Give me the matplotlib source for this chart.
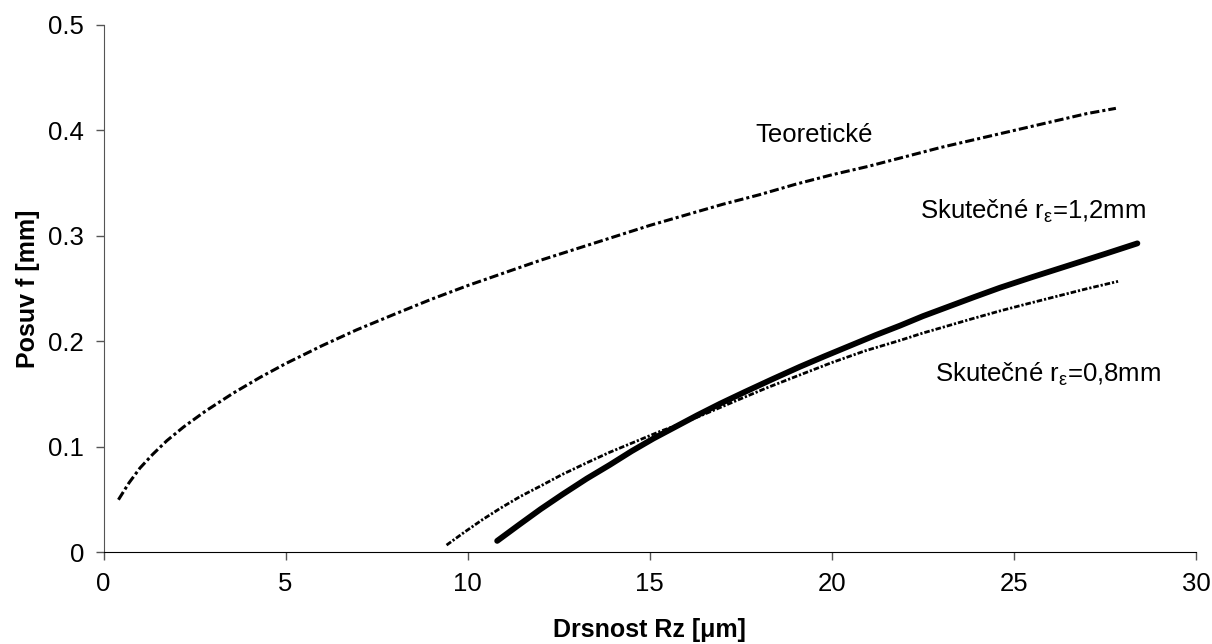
import matplotlib
matplotlib.use("Agg")
import matplotlib.pyplot as plt
from matplotlib.ticker import FuncFormatter

plt.rcParams["font.family"] = ["Liberation Sans", "DejaVu Sans"]
plt.rcParams["mathtext.fontset"] = "custom"
plt.rcParams["mathtext.rm"] = "Liberation Sans"
plt.rcParams["mathtext.it"] = "Liberation Sans:italic"

# ── Data ──────────────────────────────────────────────────────────────────────
rz_teor = [0.41, 0.7, 1.0, 1.35, 1.74, 2.2, 2.8, 3.56, 4.3, 5.0, 6.0, 6.95,
           8.0, 9.0, 10.0, 11.0, 12.0, 13.0, 14.0, 15.0, 16.0, 17.0, 18.0,
           19.0, 20.0, 21.0, 22.0, 23.0, 24.0, 25.0, 26.0, 27.0, 27.8]
f_teor = [0.050, 0.066, 0.080, 0.093, 0.106, 0.119, 0.134, 0.151, 0.166,
          0.179, 0.196, 0.211, 0.226, 0.240, 0.253, 0.265, 0.277, 0.288,
          0.299, 0.310, 0.320, 0.330, 0.339, 0.349, 0.358, 0.366, 0.375,
          0.384, 0.392, 0.400, 0.408, 0.416, 0.421]

rz_08 = [9.42, 9.9, 10.4, 10.9, 11.44, 12.0, 12.6, 13.27, 13.9, 14.6, 15.3,
         16.01, 16.7, 17.45, 18.21, 19.1, 20.0, 20.9, 21.87, 22.5, 23.2,
         23.9, 24.62, 25.4, 26.2, 27.0, 27.86]
f_08 = [0.007, 0.019, 0.031, 0.042, 0.053, 0.063, 0.074, 0.085, 0.095,
        0.105, 0.115, 0.124, 0.134, 0.145, 0.156, 0.168, 0.180, 0.191,
        0.201, 0.208, 0.215, 0.222, 0.229, 0.236, 0.243, 0.250, 0.257]

rz_12 = [10.81, 11.4, 12.0, 12.6, 13.27, 13.9, 14.5, 15.1, 15.7, 16.3,
         16.93, 17.6, 18.35, 19.12, 19.8, 20.5, 21.2, 21.87, 22.5, 23.2,
         23.9, 24.62, 25.5, 26.5, 27.5, 28.39]
f_12 = [0.011, 0.026, 0.041, 0.055, 0.070, 0.083, 0.096, 0.108, 0.119,
        0.130, 0.141, 0.152, 0.164, 0.176, 0.186, 0.196, 0.206, 0.215,
        0.224, 0.233, 0.242, 0.251, 0.261, 0.272, 0.283, 0.293]

x_ticks = [0, 5, 10, 15, 20, 25, 30]
y_ticks = [0, 0.1, 0.2, 0.3, 0.4, 0.5]

# ── Plot ──────────────────────────────────────────────────────────────────────
fig = plt.figure(figsize=(12.12, 6.44), dpi=100)
ax = fig.add_axes([0.0854, 0.1421, 0.9014, 0.8191])

ax.plot(rz_teor, f_teor, color="black", lw=2.2, linestyle=(0, (3.0, 1.0, 1, 1.0)))
ax.plot(rz_08, f_08, color="black", lw=2.0, linestyle=(0, (2.0, 0.7, 0.8, 0.7)))
ax.plot(rz_12, f_12, color="black", lw=4.2, solid_capstyle="round",
        solid_joinstyle="round")

ax.text(17.9, 0.396, "Teoretické", fontsize=18.5, va="center", ha="left")
ax.text(22.42, 0.323, "Skutečné r$_{\\mathrm{ε}}$=1,2mm", fontsize=18.5,
        va="center", ha="left")
ax.text(22.83, 0.169, "Skutečné r$_{\\mathrm{ε}}$=0,8mm", fontsize=18.5,
        va="center", ha="left")

ax.set_xlim(0, 30)
ax.set_ylim(0, 0.5)
ax.set_xticks(x_ticks)
ax.set_yticks(y_ticks)
ax.yaxis.set_major_formatter(FuncFormatter(lambda v, _: "0" if v == 0 else f"{v:.1f}"))

ax.spines["top"].set_visible(False)
ax.spines["right"].set_visible(False)
ax.spines["left"].set_color("#555555")
ax.spines["bottom"].set_color("black")
ax.tick_params(direction="out", length=6, width=1, labelsize=18.5, pad=8,
               colors="#555555", labelcolor="black")

ax.set_xlabel("Drsnost Rz [μm]", fontsize=18, fontweight="bold", labelpad=16)
ax.set_ylabel("Posuv f [mm]", fontsize=18, fontweight="bold", labelpad=6)

fig.savefig("out.png", dpi=100)
